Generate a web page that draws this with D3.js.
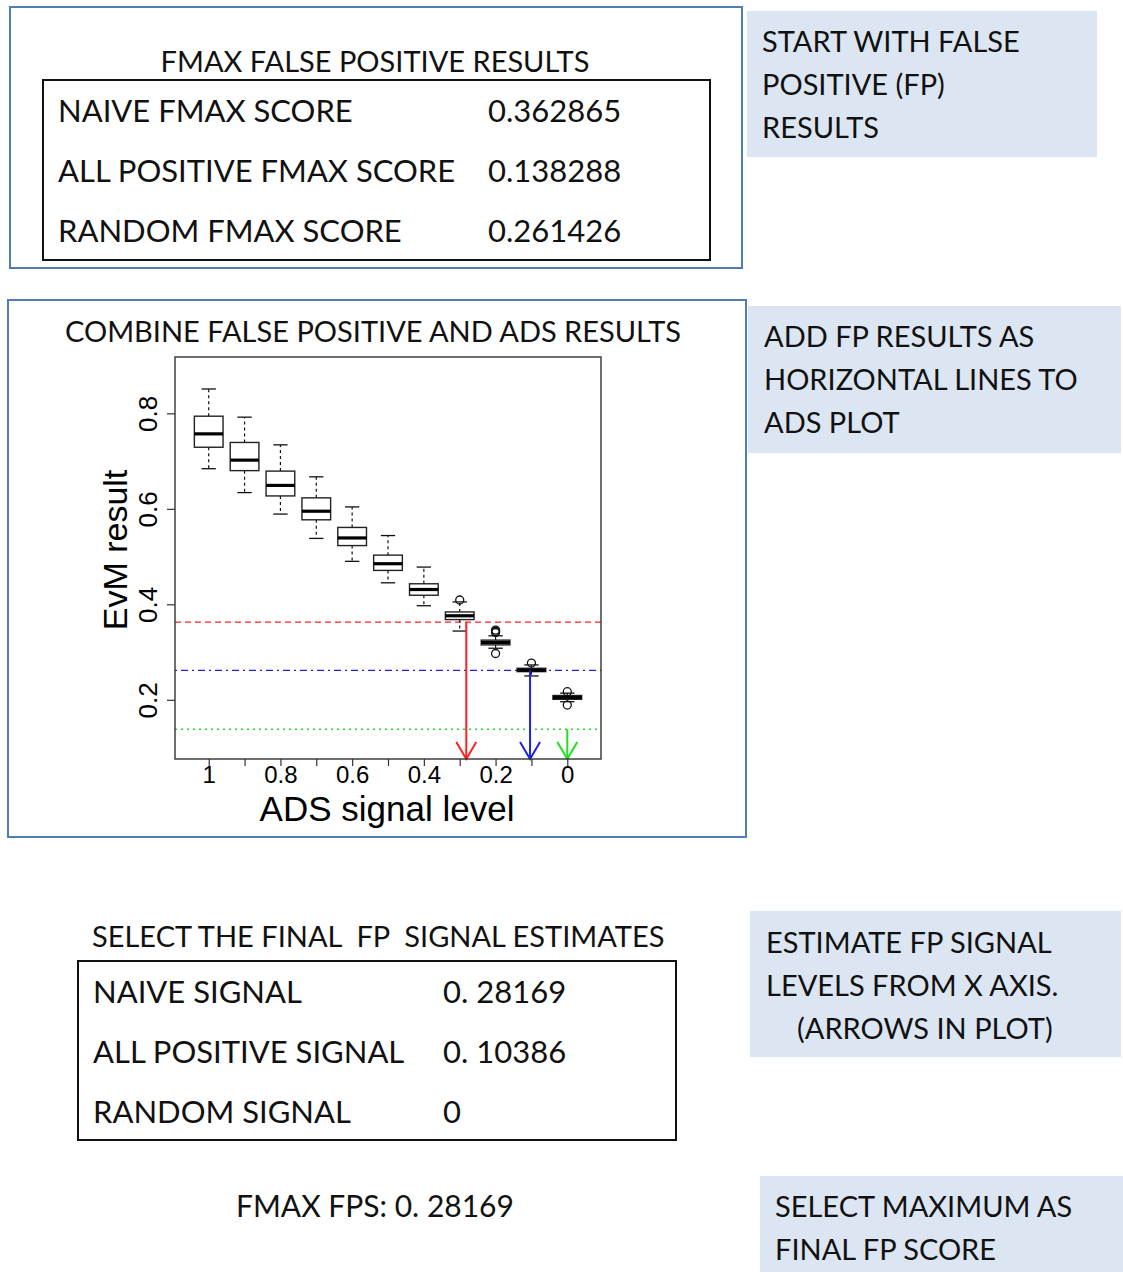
<!DOCTYPE html>
<html>
<head>
<meta charset="utf-8">
<script src="https://cdn.jsdelivr.net/npm/d3@7"></script>
<style>
  body { margin: 0; background: #fff; }
  svg text { white-space: pre; }
  .office { font-family: Lato, "Open Sans", sans-serif; fill: #111; }
  .rplot text { font-family: "Liberation Sans", Arial, sans-serif; fill: #000; }
</style>
</head>
<body>
<script>
// FP (false positive) results and signal estimates
const fpNames = ['NAIVE', 'ALL POSITIVE', 'RANDOM'];
const fmaxScores = [0.362865, 0.138288, 0.261426];
const fmaxScoreText = ['0.362865', '0.138288', '0.261426'];
const signalText = ['0. 28169', '0. 10386', '0'];
const finalText = 'FMAX FPS: 0. 28169';

// ADS boxplot, one box per signal level
const adsSignals = [1, 0.9, 0.8, 0.7, 0.6, 0.5, 0.4, 0.3, 0.2, 0.1, 0];
const whiskerLow = [0.684, 0.634, 0.589, 0.538, 0.490, 0.445, 0.397, 0.344, 0.308, 0.250, 0.196];
const q1 = [0.729, 0.680, 0.627, 0.577, 0.523, 0.471, 0.419, 0.368, 0.315, 0.259, 0.201];
const medians = [0.757, 0.702, 0.649, 0.595, 0.539, 0.485, 0.431, 0.376, 0.320, 0.262, 0.205];
const q3 = [0.794, 0.739, 0.679, 0.623, 0.561, 0.503, 0.443, 0.384, 0.325, 0.266, 0.209];
const whiskerHigh = [0.851, 0.792, 0.734, 0.667, 0.604, 0.544, 0.478, 0.405, 0.334, 0.273, 0.214];
const outliers = [[], [], [], [], [], [], [], [0.409], [0.341, 0.343, 0.346, 0.297], [0.277], [0.217, 0.189]];

// lines (fmax scores) and the signal level where the arrow lands
const lineColors = ['#ff2020', '#20e020', '#2020e0'];
const lineDash = ['6,4', '2,4', '2,4,7,4'];
const arrowSignals = [0.28169, 0, 0.10386];

const yTickValues = [0.2, 0.4, 0.6, 0.8];
const xLabelValues = [1, 0.8, 0.6, 0.4, 0.2, 0];
const xLabelText = ['1', '0.8', '0.6', '0.4', '0.2', '0'];

const W = 1123, H = 1272;
const svg = d3.select('body').append('svg')
  .attr('width', W).attr('height', H);

svg.append('rect').attr('width', W).attr('height', H).attr('fill', '#fff');

const frameColor = '#4f7db5';
const noteFill = '#dce6f2';
const fsTitle = 29;   // headings and side notes
const fsRow = 31;     // table rows

// --- outer frames and side notes
function frame(x, y, w, h) {
  svg.append('rect').attr('x', x).attr('y', y).attr('width', w).attr('height', h)
    .attr('fill', 'none').attr('stroke', frameColor).attr('stroke-width', 2);
}
function note(x, y, w, h, lines, tx, ty, lh) {
  svg.append('rect').attr('x', x).attr('y', y).attr('width', w).attr('height', h)
    .attr('fill', noteFill);
  lines.forEach((t, i) => {
    svg.append('text').attr('class', 'office')
      .attr('x', tx + (t.indent || 0)).attr('y', ty + i * lh)
      .attr('font-size', fsTitle).text(t.s || t);
  });
}
function label(x, y, t, size, anchor) {
  svg.append('text').attr('class', 'office')
    .attr('x', x).attr('y', y).attr('font-size', size)
    .attr('text-anchor', anchor || 'start').text(t);
}

frame(10, 7, 732, 261);
frame(8, 300, 738, 537);

note(747, 11, 350, 146, ['START WITH FALSE', 'POSITIVE (FP)', 'RESULTS'], 762, 52, 43);
note(748, 306, 373, 147, ['ADD FP RESULTS AS', 'HORIZONTAL LINES TO', 'ADS PLOT'], 764, 347, 43);
note(750, 911, 371, 146, ['ESTIMATE FP SIGNAL', 'LEVELS FROM X AXIS.', { s: '(ARROWS IN PLOT)', indent: 31 }], 766, 953, 43);
note(760, 1176, 363, 96, ['SELECT MAXIMUM AS', 'FINAL FP SCORE'], 775, 1217, 43);

// --- top table: FMAX scores
label(375, 72, 'FMAX FALSE POSITIVE RESULTS', fsTitle, 'middle');
svg.append('rect').attr('x', 43).attr('y', 80).attr('width', 667).attr('height', 180)
  .attr('fill', 'none').attr('stroke', '#111').attr('stroke-width', 2);
fpNames.forEach((n, i) => {
  label(58, 122 + i * 60, n + ' FMAX SCORE', fsRow);
  label(488, 122 + i * 60, fmaxScoreText[i], fsRow);
});

// --- middle: title + boxplot
label(373, 342, 'COMBINE FALSE POSITIVE AND ADS RESULTS', fsTitle, 'middle');

const plot = { left: 175, right: 601, top: 357, bottom: 759 };
const x = d3.scaleLinear().domain([1.094, -0.094]).range([plot.left, plot.right]);
const y = d3.scaleLinear().domain([0.076, 0.918]).range([plot.bottom, plot.top]);
const step = Math.abs(x(0.1) - x(0));
const boxW = step * 0.8;
const capW = boxW / 2;

const g = svg.append('g').attr('class', 'rplot');

// reference lines
fmaxScores.forEach((s, i) => {
  g.append('line')
    .attr('x1', plot.left).attr('x2', plot.right)
    .attr('y1', y(s)).attr('y2', y(s))
    .attr('stroke', lineColors[i]).attr('stroke-width', 1.3)
    .attr('stroke-dasharray', lineDash[i]);
});

// boxes
const boxes = g.selectAll('.box').data(adsSignals).enter().append('g')
  .attr('class', 'box')
  .attr('transform', d => `translate(${x(d)},0)`);

boxes.append('line').attr('y1', (d, i) => y(q3[i])).attr('y2', (d, i) => y(whiskerHigh[i]))
  .attr('stroke', '#111').attr('stroke-width', 1.2).attr('stroke-dasharray', '3,3');
boxes.append('line').attr('y1', (d, i) => y(q1[i])).attr('y2', (d, i) => y(whiskerLow[i]))
  .attr('stroke', '#111').attr('stroke-width', 1.2).attr('stroke-dasharray', '3,3');
boxes.append('line').attr('x1', -capW / 2).attr('x2', capW / 2)
  .attr('y1', (d, i) => y(whiskerHigh[i])).attr('y2', (d, i) => y(whiskerHigh[i]))
  .attr('stroke', '#111').attr('stroke-width', 1.3);
boxes.append('line').attr('x1', -capW / 2).attr('x2', capW / 2)
  .attr('y1', (d, i) => y(whiskerLow[i])).attr('y2', (d, i) => y(whiskerLow[i]))
  .attr('stroke', '#111').attr('stroke-width', 1.3);
boxes.append('rect').attr('x', -boxW / 2).attr('width', boxW)
  .attr('y', (d, i) => y(q3[i])).attr('height', (d, i) => y(q1[i]) - y(q3[i]))
  .attr('fill', '#fff').attr('stroke', '#222').attr('stroke-width', 1.4);
boxes.append('line').attr('x1', -boxW / 2).attr('x2', boxW / 2)
  .attr('y1', (d, i) => y(medians[i])).attr('y2', (d, i) => y(medians[i]))
  .attr('stroke', '#000').attr('stroke-width', 3.2);
boxes.each(function (d, i) {
  d3.select(this).selectAll('circle').data(outliers[i]).enter().append('circle')
    .attr('cx', 0).attr('cy', v => y(v)).attr('r', 4)
    .attr('fill', 'none').attr('stroke', '#111').attr('stroke-width', 1.3);
});

// arrows from each fmax line down to the x axis
fmaxScores.forEach((s, i) => {
  const ax = x(arrowSignals[i]);
  const tip = plot.bottom;
  g.append('line').attr('x1', ax).attr('x2', ax).attr('y1', y(s)).attr('y2', tip)
    .attr('stroke', lineColors[i]).attr('stroke-width', 2);
  g.append('path')
    .attr('d', `M${ax - 10},${tip - 17}L${ax},${tip}L${ax + 10},${tip - 17}`)
    .attr('fill', 'none').attr('stroke', lineColors[i]).attr('stroke-width', 2);
});

// plot frame
g.append('rect').attr('x', plot.left).attr('y', plot.top)
  .attr('width', plot.right - plot.left).attr('height', plot.bottom - plot.top)
  .attr('fill', 'none').attr('stroke', '#333').attr('stroke-width', 1.4);

// y axis
const yAxis = g.append('g').attr('transform', `translate(${plot.left},0)`)
  .call(d3.axisLeft(y).tickValues(yTickValues).tickSize(8).tickFormat(d3.format('.1f')));
yAxis.select('.domain').remove();
yAxis.selectAll('line').attr('stroke', '#333').attr('stroke-width', 1.2);
yAxis.selectAll('text')
  .attr('transform', 'rotate(-90)')
  .attr('x', 0).attr('y', -18).attr('dy', 0)
  .attr('text-anchor', 'middle')
  .attr('font-size', 26);

// x axis
const xAxis = g.append('g').attr('transform', `translate(0,${plot.bottom})`)
  .call(d3.axisBottom(x).tickValues(adsSignals).tickSize(7)
    .tickFormat(d => {
      const k = xLabelValues.indexOf(d);
      return k >= 0 ? xLabelText[k] : '';
    }));
xAxis.select('.domain').remove();
xAxis.selectAll('line').attr('stroke', '#333').attr('stroke-width', 1.2);
xAxis.selectAll('text').attr('y', 24).attr('dy', 0).attr('font-size', 24);

// axis titles
g.append('text')
  .attr('transform', `translate(127,550) rotate(-90)`)
  .attr('text-anchor', 'middle').attr('font-size', 34).text('EvM result');
g.append('text')
  .attr('x', 387).attr('y', 821)
  .attr('text-anchor', 'middle').attr('font-size', 35).text('ADS signal level');

// --- bottom: signal estimates table
label(92, 947, 'SELECT THE FINAL  FP  SIGNAL ESTIMATES', fsTitle);
svg.append('rect').attr('x', 78).attr('y', 961).attr('width', 598).attr('height', 179)
  .attr('fill', 'none').attr('stroke', '#111').attr('stroke-width', 2);
fpNames.forEach((n, i) => {
  label(93, 1003 + i * 60, n + ' SIGNAL', fsRow);
  label(443, 1003 + i * 60, signalText[i], fsRow);
});

label(236, 1217, finalText, 30);
</script>
</body>
</html>
